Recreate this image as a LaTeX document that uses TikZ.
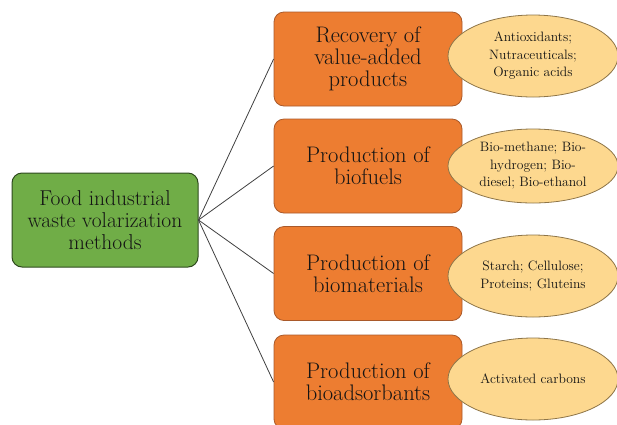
\documentclass[tikz,border=0pt]{standalone}
\usepackage{fontspec}
\usetikzlibrary{shapes.geometric}
\definecolor{boxorange}{HTML}{ED7D31}
\definecolor{boxorangeline}{HTML}{A9592A}
\definecolor{boxgreen}{HTML}{70AD47}
\definecolor{boxgreenline}{HTML}{2E4A1E}
\definecolor{ellfill}{HTML}{FDD88F}
\definecolor{ellline}{HTML}{8E7548}
\definecolor{txt}{HTML}{141414}
\definecolor{conn}{HTML}{404040}
\tikzset{
  rootbox/.style={draw=boxgreenline, fill=boxgreen, line width=1pt, rounded corners=10pt,
    minimum width=186pt, minimum height=94pt, inner sep=0pt, align=center, text=txt,
    font=\fontsize{21.5}{22}\selectfont},
  methodbox/.style={draw=boxorangeline, fill=boxorange, line width=0.8pt, rounded corners=10pt,
    minimum width=188pt, minimum height=94pt, inner sep=0pt, align=center, text=txt,
    font=\fontsize{22.5}{22}\selectfont},
  itemell/.style={ellipse, draw=ellline, fill=ellfill, line width=0.8pt,
    minimum width=170pt, minimum height=82pt, inner sep=0pt, align=center, text=txt,
    font=\fontsize{13.6}{17.5}\selectfont},
  link/.style={draw=conn, line width=0.8pt}
}
\begin{document}
\begin{tikzpicture}[x=1pt,y=-1pt]
\useasboundingbox (0,0) rectangle (617,424);
\node[rootbox] (root) at (105,220) {Food industrial\\waste volarization\\methods};
\node[methodbox] (m1) at (368,59) {Recovery of\\value-added\\products};
\node[methodbox] (m2) at (368,166) {Production of\\biofuels};
\node[methodbox] (m3) at (368,273.5) {Production of\\biomaterials};
\node[methodbox] (m4) at (368,382) {Production of\\bioadsorbants};
\draw[link] (root.east) -- (m1.west);
\draw[link] (root.east) -- (m2.west);
\draw[link] (root.east) -- (m3.west);
\draw[link] (root.east) -- (m4.west);
\node[itemell] (e1) at (533,56) {Antioxidants;\\Nutraceuticals;\\Organic acids};
\node[itemell, minimum height=74pt] (e2) at (533,166) {Bio-methane; Bio-\\hydrogen; Bio-\\diesel; Bio-ethanol};
\node[itemell] (e3) at (533,276) {Starch; Cellulose;\\Proteins; Gluteins};
\node[itemell] (e4) at (533,379) {Activated carbons};
\end{tikzpicture}
\end{document}
